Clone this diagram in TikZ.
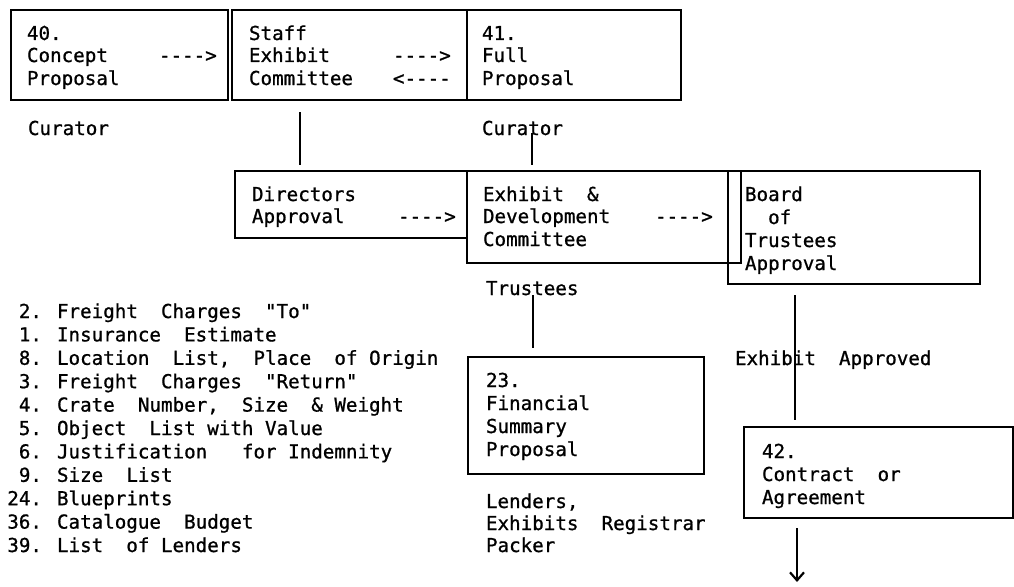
\documentclass[tikz,border=0pt]{standalone}
\usepackage{fontspec}
\setmonofont{DejaVu Sans Mono}[FakeBold=0.9]
\usetikzlibrary{arrows.meta}
\begin{document}
\begin{tikzpicture}[x=1pt,y=-1pt,
  every node/.style={inner sep=0pt, outer sep=0pt},
  txt/.style={anchor=base west, font=\ttfamily\fontsize{19.2}{23}\selectfont},
  num/.style={anchor=base east, font=\ttfamily\fontsize{19.2}{23}\selectfont},
  box/.style={draw, line width=1.8pt, anchor=north west},
  conn/.style={line width=1.8pt}]
\useasboundingbox (0,0) rectangle (1014,586);

% boxes
\node[box, minimum width=217pt, minimum height=90pt] (A) at (11,10) {};
\node[box, minimum width=235pt, minimum height=90pt] (B) at (232,10) {};
\node[box, minimum width=214pt, minimum height=90pt] (C) at (467,10) {};
\node[box, minimum width=232pt, minimum height=67pt] (D) at (235,171) {};
\node[box, minimum width=274pt, minimum height=92pt] (E) at (467,171) {};
\node[box, minimum width=252pt, minimum height=113pt] (F) at (728,171) {};
\node[box, minimum width=236pt, minimum height=117pt] (G) at (468,357) {};
\node[box, minimum width=269pt, minimum height=91pt] (H) at (744,427) {};

% box A
\node[txt] (a1) at (27,40) {40.};
\node[txt] (a2) at (27,62) {Concept};
\node[txt] (a3) at (27,85) {Proposal};
\node[txt] (a4) at (159,62) {---->};
% box B
\node[txt] (b1) at (249,40) {Staff};
\node[txt] (b2) at (249,62) {Exhibit};
\node[txt] (b3) at (249,85) {Committee};
\node[txt] (b4) at (393,62) {---->};
\node[txt] (b5) at (393,85) {<----};
% box C
\node[txt] (c1) at (482,40) {41.};
\node[txt] (c2) at (482,62) {Full};
\node[txt] (c3) at (482,85) {Proposal};
% labels under top row
\node[txt] (cur1) at (28,135) {Curator};
\node[txt] (cur2) at (482,135) {Curator};
% box D
\node[txt] (d1) at (252,201) {Directors};
\node[txt] (d2) at (252,223) {Approval};
\node[txt] (d3) at (398,223) {---->};
% box E
\node[txt] (e1) at (483,201) {Exhibit~~\&};
\node[txt] (e2) at (483,223) {Development};
\node[txt] (e3) at (483,246) {Committee};
\node[txt] (e4) at (655,223) {---->};
% box F
\node[txt] (f1) at (745,201) {Board};
\node[txt] (f2) at (745,224) {~~of};
\node[txt] (f3) at (745,247) {Trustees};
\node[txt] (f4) at (745,270) {Approval};
% trustees label
\node[txt] (trl) at (486,295) {Trustees};
% box G
\node[txt] (g1) at (486,387) {23.};
\node[txt] (g2) at (486,410) {Financial};
\node[txt] (g3) at (486,433) {Summary};
\node[txt] (g4) at (486,456) {Proposal};
% lenders label
\node[txt] (l1) at (486,508) {Lenders,};
\node[txt] (l2) at (486,530) {Exhibits~~Registrar};
\node[txt] (l3) at (486,552) {Packer};
% exhibit approved
\node[txt] (ea) at (735,365) {Exhibit~~Approved};
% box H
\node[txt] (h1) at (762,458) {42.};
\node[txt] (h2) at (762,481) {Contract~~or};
\node[txt] (h3) at (762,504) {Agreement};

% list
\foreach \n/\t [count=\i] in {
  2./{Freight~~Charges~~"To"},
  1./{Insurance~~Estimate},
  8./{Location~~List,~~Place~~of~Origin},
  3./{Freight~~Charges~~"Return"},
  4./{Crate~~Number,~~Size~~\&~Weight},
  5./{Object~~List~with~Value},
  6./{Justification~~~for~Indemnity},
  9./{Size~~List},
  24./{Blueprints},
  36./{Catalogue~~Budget},
  39./{List~~of~Lenders}}
{
  \node[num] (n\i) at (42,{318+23.4*(\i-1)}) {\n};
  \node[txt] (t\i) at (57,{318+23.4*(\i-1)}) {\t};
}

% connectors
\coordinate (x300) at (300,0);
\coordinate (x532) at (532,0);
\coordinate (x533) at (533,0);
\coordinate (x795) at (795,0);
\coordinate (end) at (797,582);
\draw[conn, shorten <=12pt, shorten >=6pt] (B.south -| x300) -- (D.north -| x300);
\draw[conn, shorten <=-2pt, shorten >=6pt] (cur2.base -| x532) -- (E.north -| x532);
\draw[conn, shorten >=9pt] (trl.base -| x533) -- (G.north -| x533);
\draw[conn, shorten <=11pt, shorten >=7pt] (F.south -| x795) -- (H.north -| x795);
\draw[conn, shorten <=10pt, -{Straight Barb[length=8pt,width=14pt,line width=2.2pt]}] (H.south -| end) -- (end);
\end{tikzpicture}
\end{document}
